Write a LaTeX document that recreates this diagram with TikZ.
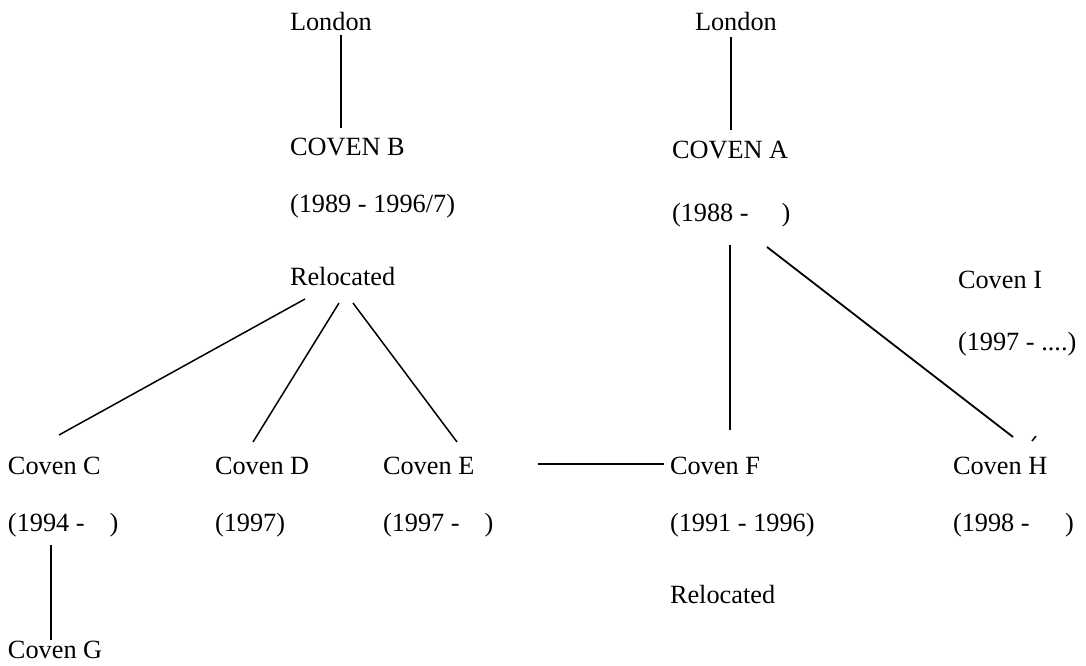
\documentclass[tikz,border=0pt]{standalone}
\usepackage{fontspec}
\setmainfont{Liberation Serif}
\begin{document}
\begin{tikzpicture}[x=1pt,y=-1pt,
  lbl/.style={anchor=base west,inner sep=0pt,outer sep=0pt,font=\fontsize{26.3}{30}\selectfont},
  conn/.style={line width=1.5pt,black},
  thick conn/.style={line width=2.3pt,black}]
\useasboundingbox (0,0) rectangle (1086,666);
% left column
\node[lbl] (lonL) at (290,31) {London};
\node[lbl] (covB) at (290,155) {COVEN B};
\node[lbl] (yrB) at (290,212) {(1989 - 1996/7)};
\node[lbl] (relB) at (290,285) {Relocated};
% bottom row
\node[lbl] (covC) at (8,474) {Coven C};
\node[lbl] (yrC) at (8,531) {(1994 -\hspace{0.95em})};
\node[lbl] (covG) at (8,658) {Coven G};
\node[lbl] (covD) at (215,474) {Coven D};
\node[lbl] (yrD) at (215,531) {(1997)};
\node[lbl] (covE) at (383,474) {Coven E};
\node[lbl] (yrE) at (383,531) {(1997 -\hspace{0.95em})};
\node[lbl] (covF) at (670,474) {Coven F};
\node[lbl] (yrF) at (670,531) {(1991 - 1996)};
\node[lbl] (relF) at (670,603) {Relocated};
% right column
\node[lbl] (lonR) at (695,31) {London};
\node[lbl] (covA) at (672,158) {COVEN A};
\node[lbl] (yrA) at (672,221) {(1988 -\hspace{1.25em})};
\node[lbl] (covI) at (958,288) {Coven I};
\node[lbl] (yrI) at (958,350) {(1997 - ....)};
\node[lbl] (covH) at (953,474) {Coven H};
\node[lbl] (yrH) at (953,531) {(1998 -\hspace{1.35em})};
% connectors
\draw[thick conn] ([shift={(51,4)}]lonL.base west) -- ([shift={(51,-27)}]covB.base west);
\draw[conn,line width=1.8pt] ([shift={(36,6)}]lonR.base west) -- ([shift={(59,-28)}]covA.base west);
\draw[conn] ([shift={(15,14)}]relB.base west) -- ([shift={(51,-39)}]covC.base west);
\draw[conn] ([shift={(49,18)}]relB.base west) -- ([shift={(38,-32)}]covD.base west);
\draw[conn] ([shift={(63,18)}]relB.base west) -- ([shift={(74,-32)}]covE.base west);
\draw[conn,line width=1.3pt] ([shift={(43,14)}]yrC.base west) -- ([shift={(43,-18)}]covG.base west);
\draw[conn,line width=1.3pt] ([shift={(155,-10)}]covE.base west) -- ([shift={(-6,-10)}]covF.base west);
\draw[conn,line width=2pt] ([shift={(58,24)}]yrA.base west) -- ([shift={(60,-44)}]covF.base west);
\draw[conn,line width=1.8pt] ([shift={(95,26)}]yrA.base west) -- ([shift={(60,-37)}]covH.base west);
\draw[line width=1.5pt] ([shift={(79,-33)}]covH.base west) -- ([shift={(83,-38)}]covH.base west);
\end{tikzpicture}
\end{document}
